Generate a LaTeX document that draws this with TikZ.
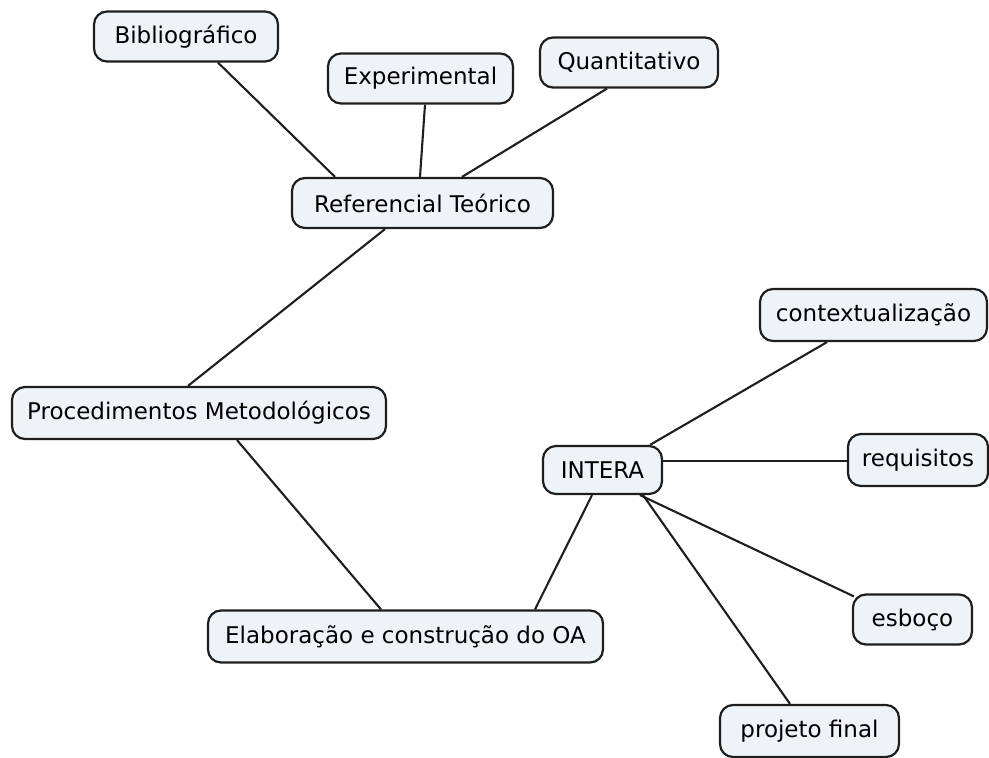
\documentclass[tikz,border=0pt]{standalone}
\usepackage{fontspec}
\setmainfont{DejaVu Sans}
\definecolor{caixa}{RGB}{237,243,246}
\definecolor{borda}{RGB}{30,30,30}

\begin{document}
\begin{tikzpicture}[x=1pt,y=-1pt,
    conceito/.style={draw=borda,line width=2.2pt,fill=caixa,rounded corners=13pt,
      minimum height=50pt,inner xsep=14pt,font=\fontsize{23}{27}\selectfont},
    ligacao/.style={draw=borda,line width=2.1pt}]
                \useasboundingbox (0,0) rectangle (989,758);
                \node[conceito,minimum width=184pt] (bib) at (186,36.5) {Bibliográfico};
                \node[conceito,minimum width=185pt] (exp) at (420.5,78.5) {Experimental};
                \node[conceito,minimum width=178pt] (quant) at (629,62.5) {Quantitativo};
                \node[conceito,minimum width=261pt] (ref) at (422.5,203) {Referencial Teórico};
                \node[conceito,minimum width=374pt,minimum height=52pt] (proc) at (199,413) {Procedimentos Metodológicos};
                \node[conceito,minimum width=395pt,minimum height=52pt] (elab) at (405.5,636.5) {Elaboração e construção do OA};
                \node[conceito,minimum width=119pt,minimum height=48pt] (intera) at (602.5,470) {INTERA};
                \node[conceito,minimum width=227pt,minimum height=52pt] (ctx) at (873.5,315) {contextualização};
                \node[conceito,minimum width=140pt,minimum height=52pt] (req) at (918,460) {requisitos};
                \node[conceito,minimum width=119pt] (esb) at (912.5,619.5) {esboço\hspace{9pt}};
                \node[conceito,minimum width=179pt,minimum height=52pt] (proj) at (809.5,731) {projeto final\hspace{10pt}};
                \draw[ligacao] ([xshift=32pt]bib.south) -- ([xshift=-87.5pt]ref.north);
                \draw[ligacao] ([xshift=4.5pt]exp.south) -- ([xshift=-2.5pt]ref.north);
                \draw[ligacao] ([xshift=-22pt]quant.south) -- ([xshift=39.5pt]ref.north);
                \draw[ligacao] ([xshift=-37.5pt]ref.south) -- ([xshift=-11pt]proc.north);
                \draw[ligacao] ([xshift=38pt]proc.south) -- ([xshift=-24.5pt]elab.north);
                \draw[ligacao] ([xshift=129.5pt]elab.north) -- ([xshift=-10.5pt]intera.south);
                \draw[ligacao] ([xshift=47.5pt]intera.north) -- ([xshift=-46.5pt]ctx.south);
                \draw[ligacao] ([yshift=9pt]intera.east) -- ([yshift=-1pt]req.west);
                \draw[ligacao] ([xshift=37.5pt]intera.south) -- ([xshift=2pt,yshift=-3pt]esb.north west);
                \draw[ligacao] ([xshift=40.5pt]intera.south) -- ([xshift=-19.5pt]proj.north);
            \end{tikzpicture}
\end{document}
